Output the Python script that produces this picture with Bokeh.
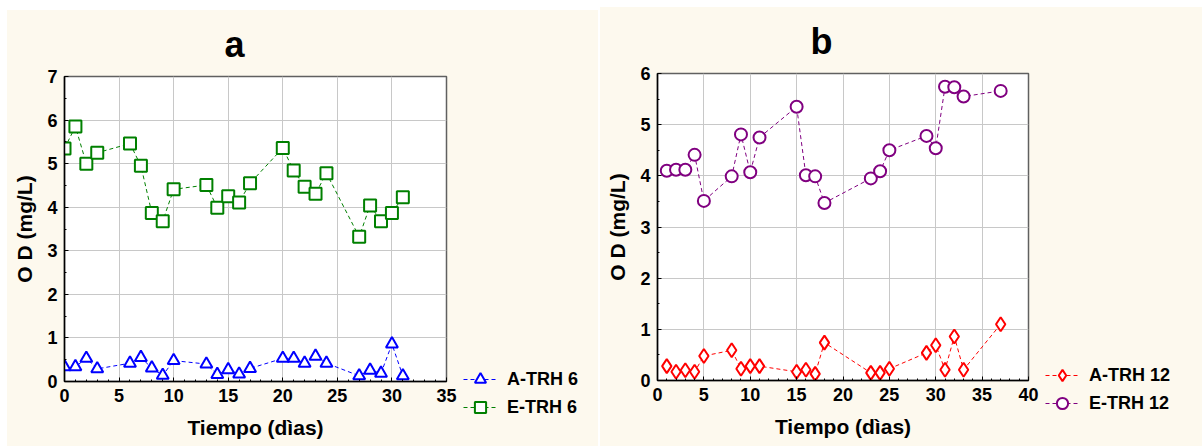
from bokeh.plotting import figure
from bokeh.models import Legend, LegendItem, Title, FixedTicker
from bokeh.layouts import row
from bokeh.embed import file_html
from bokeh.resources import INLINE

# ---- data panel a ----
a_days = [0, 1, 2, 3, 6, 7, 8, 9, 10, 13, 14, 15, 16, 17, 20, 21, 22, 23, 24, 27, 28, 29, 30, 31]
a_trh6 = [0.34, 0.34, 0.53, 0.29, 0.42, 0.55, 0.31, 0.14, 0.48, 0.40, 0.16, 0.27, 0.17, 0.30,
          0.53, 0.53, 0.42, 0.58, 0.42, 0.13, 0.26, 0.19, 0.86, 0.13]
e_trh6 = [5.35, 5.85, 5.00, 5.25, 5.46, 4.95, 3.87, 3.68, 4.41, 4.51, 3.99, 4.25, 4.11, 4.55,
          5.36, 4.84, 4.47, 4.31, 4.78, 3.32, 4.04, 3.68, 3.87, 4.23]

# ---- data panel b ----
b_days = [1, 2, 3, 4, 5, 8, 9, 10, 11, 15, 16, 17, 18, 23, 24, 25, 29, 30, 31, 32, 33, 37]
a_trh12 = [0.28, 0.17, 0.20, 0.17, 0.48, 0.59, 0.23, 0.28, 0.28, 0.17, 0.21, 0.13, 0.74,
           0.15, 0.15, 0.23, 0.54, 0.69, 0.21, 0.86, 0.21, 1.10]
e_trh12 = [4.10, 4.12, 4.12, 4.41, 3.51, 3.99, 4.81, 4.07, 4.75, 5.35, 4.01, 3.99, 3.47,
           3.95, 4.09, 4.50, 4.78, 4.54, 5.74, 5.73, 5.55, 5.66]

CREAM = "#fdf9ee"
FONT = "Liberation Sans"


def make_panel(title, xmax, ymax, xs, s1, s2, colors, markers, sizes,
               width, height, border_b, title_off):
    p = figure(width=width, height=height, x_range=(0, xmax), y_range=(0, ymax),
               output_backend="svg", toolbar_location=None, frame_align=False,
               min_border_left=57, min_border_top=63, min_border_right=12,
               min_border_bottom=border_b,
               background_fill_color="white", border_fill_color=CREAM,
               outline_line_color="#606060", outline_line_width=1.5, margin=0)
    p.add_layout(Title(text=title, text_font=FONT, text_font_size="36px", text_font_style="bold",
                       text_color="black", align="left", offset=title_off, standoff=23), "above")
    p.xaxis.ticker = FixedTicker(ticks=list(range(0, xmax + 1, 5)),
                                 minor_ticks=[i for i in range(0, xmax + 1)])
    p.yaxis.ticker = FixedTicker(ticks=list(range(0, ymax + 1)),
                                 minor_ticks=[i / 2 for i in range(0, 2 * ymax + 1)])
    p.xaxis.axis_label = "Tiempo (dìas)"
    p.yaxis.axis_label = "O D (mg/L)"
    for ax in (p.xaxis, p.yaxis):
        ax.axis_label_text_font = FONT
        ax.axis_label_text_font_size = "21px"
        ax.axis_label_text_font_style = "bold"
        ax.axis_label_text_color = "black"
        ax.major_label_text_font = FONT
        ax.major_label_text_font_size = "18px"
        ax.major_label_text_font_style = "bold"
        ax.major_label_text_color = "black"
        ax.axis_line_color = "black"
        ax.axis_line_width = 1.5
        ax.major_tick_in = 4
        ax.major_tick_out = 0
        ax.minor_tick_in = 2
        ax.minor_tick_out = 0
        ax.major_tick_line_color = "black"
        ax.minor_tick_line_color = "black"
        ax.major_label_standoff = 7
    p.xaxis.axis_label_standoff = 11
    p.yaxis.axis_label_standoff = 8
    p.grid.grid_line_color = "#c8c8c8"
    p.grid.grid_line_width = 1

    for ys, col, mk, sz in zip((s1, s2), colors, markers, sizes):
        p.line(xs, ys, line_color=col, line_width=1, line_dash="4 3")
        p.scatter(xs, ys, marker=mk, size=sz, line_color=col, line_width=2, fill_color="white")
    return p


def make_legend(names, colors, markers, width, height, leg_x, leg_y):
    q = figure(width=width, height=height, x_range=(0, 1), y_range=(0, 1),
               output_backend="svg", toolbar_location=None, frame_align=False,
               x_axis_location=None, y_axis_location=None,
               min_border=0, background_fill_color=CREAM, border_fill_color=CREAM,
               outline_line_color=None, margin=0)
    q.grid.visible = False
    nan = [float("nan")]
    items = []
    for name, col, mk in zip(names, colors, markers):
        # placeholder renderers (no visible data) that only supply the legend glyphs
        l = q.line(nan, nan, line_color=col, line_width=1, line_dash="4 3")
        m = q.scatter(nan, nan, marker=mk, line_color=col, line_width=2, fill_color="white")
        items.append(LegendItem(label=name, renderers=[l, m]))
    leg = Legend(items=items, location=(leg_x, leg_y), padding=0, margin=0,
                 background_fill_alpha=0, border_line_alpha=0,
                 label_text_font=FONT, label_text_font_size="18px", label_text_font_style="bold",
                 label_text_color="black",
                 glyph_width=34, glyph_height=28, label_height=28, spacing=0, label_standoff=10)
    q.add_layout(leg, "center")
    return q


a_names = ["A-TRH 6", "E-TRH 6"]
a_colors = ["#0000ff", "#008000"]
a_markers = ["triangle", "square"]
b_names = ["A-TRH 12", "E-TRH 12"]
b_colors = ["#ff0000", "#800080"]
b_markers = ["diamond", "circle"]

pa = make_panel("a", 35, 7, a_days, a_trh6, e_trh6, a_colors, a_markers, [12, 12],
                451, 436, 65, 160)
la = make_legend(a_names, a_colors, a_markers, 140, 436, 5, 25)
pb = make_panel("b", 40, 6, b_days, a_trh12, e_trh12, b_colors, b_markers, [14, 12],
                440, 439, 66, 153)
lb = make_legend(b_names, b_colors, b_markers, 162, 439, 5, 29)

left = row(pa, la, spacing=0, margin=(10, 1, 0, 7), styles={"background-color": CREAM})
right = row(pb, lb, spacing=0, margin=(7, 0, 0, 1), styles={"background-color": CREAM})
layout = row(left, right, spacing=0)
open("out.html", "w").write(file_html(layout, INLINE))
